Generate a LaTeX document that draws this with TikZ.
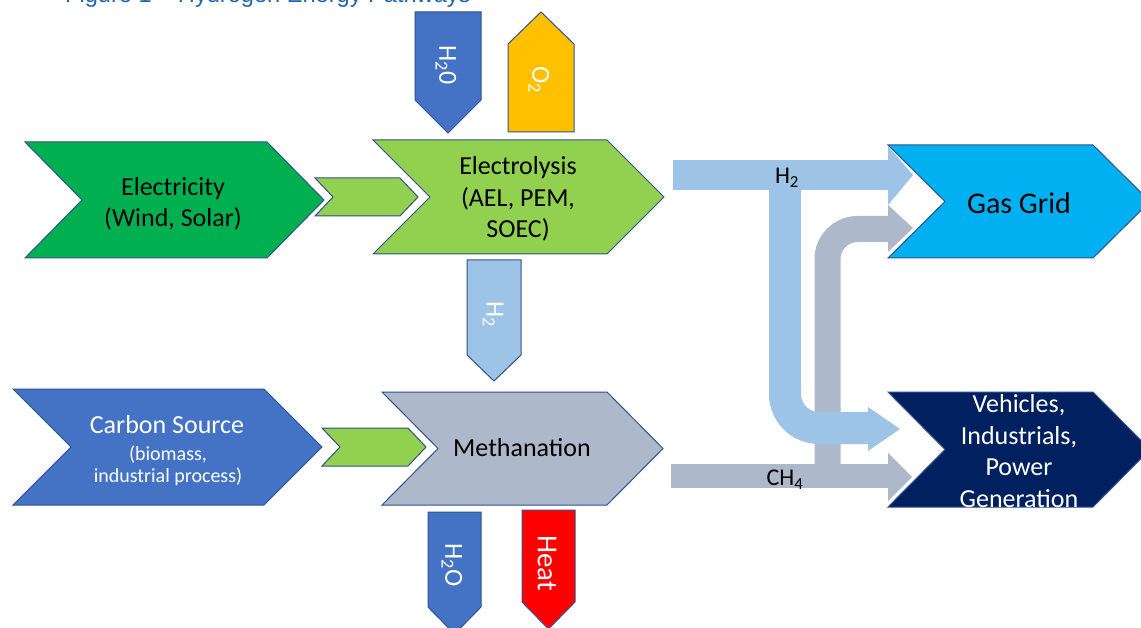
\documentclass[tikz,border=0pt]{standalone}
\usepackage{fontspec}
\setmainfont{Carlito}
\newfontfamily\titlefont{Liberation Sans}
\definecolor{edge}{HTML}{2F528F}
\definecolor{cgreen}{HTML}{00B050}
\definecolor{lgreen}{HTML}{92D050}
\definecolor{cblue}{HTML}{4472C4}
\definecolor{cyellow}{HTML}{FFC000}
\definecolor{lblue}{HTML}{9DC3E6}
\definecolor{cgrey}{HTML}{ADB9CA}
\definecolor{cyan2}{HTML}{00B0F0}
\definecolor{navy}{HTML}{002060}
\definecolor{cred}{HTML}{FF0000}
\definecolor{titleblue}{HTML}{1F68B0}
\newcommand\mychev[6]{\path[#1] (#2,#3) -- (#4,#3) -- ({#4+#6},{(#3+#5)/2}) -- (#4,#5) -- (#2,#5) -- ({#2+#6},{(#3+#5)/2}) -- cycle;}
\newcommand\myvarrow[6]{\path[#1] (#2,#4) -- (#3,#4) -- (#3,#5) -- ({(#2+#3)/2},#6) -- (#2,#5) -- cycle;}
\tikzset{
  shape box/.style={draw=edge, line width=1bp, fill=#1},
  lbl/.style={inner sep=0pt, align=center, font=\fontsize{26bp}{31.5bp}\selectfont},
  vlbl/.style={inner sep=0pt, rotate=-90, text=white, font=\fontsize{26bp}{30bp}\selectfont},
  flowlbl/.style={inner sep=0pt, font=\fontsize{24bp}{26bp}\selectfont},
}
\begin{document}
\begin{tikzpicture}[x=1bp, y=-1bp]
\clip (0,0) rectangle (1141,628);
\fill[white] (0,0) rectangle (1141,628);
% title (cut off at top)
\node[anchor=base west, inner sep=0pt, text=titleblue, font=\titlefont\fontsize{23.6bp}{28bp}\selectfont] (title) at (65,3) {Figure 1 – Hydrogen Energy Pathways};

% ---- flows ----
\coordinate (gvtop) at (827.5,229);
\coordinate (gvbot) at (827.5,476);
\draw[cgrey, line width=26bp, rounded corners=30bp] (gvbot) -- (gvtop) -- (888,229);
\fill[cgrey] (888,205) -- (913,228) -- (888,252) -- cycle;
\fill[cgrey] (671,464) rectangle (888,488);
\fill[cgrey] (888,453) -- (912,477) -- (888,501) -- cycle;
% light blue H2
\fill[lblue] (673,160) rectangle (888,190);
\fill[lblue] (888,146) -- (913,175) -- (888,205) -- cycle;
\draw[lblue, line width=32bp, rounded corners=34bp] (785,175) -- (785,428) -- (868,428);
\fill[lblue] (868,407) -- (900,429) -- (868,451) -- cycle;
\node[flowlbl] (h2flow) at (787,178) {H\textsubscript{2}};
\node[flowlbl] (ch4flow) at (785,480) {CH\textsubscript{4}};

% ---- vertical arrows ----
\myvarrow{shape box=cblue}{415}{481}{12}{100}{133}
\myvarrow{shape box=cyellow}{508}{574}{132}{44}{12}
\myvarrow{shape box=lblue}{467}{521}{260}{355}{381}
\myvarrow{shape box=cblue}{428}{481}{512}{607}{634}
\myvarrow{shape box=cred}{522}{575}{510}{602}{629}
\node[vlbl] (h2oin) at (446,65) {H\textsubscript{2}0};
\node[vlbl] (o2out) at (539,80) {O\textsubscript{2}};
\node[vlbl] (h2mid) at (493,314) {H\textsubscript{2}};
\node[vlbl] (h2oout) at (452,565) {H\textsubscript{2}O};
\node[vlbl, font=\fontsize{29bp}{30bp}\selectfont] (heat) at (547,563) {Heat};

% ---- chevrons ----
\mychev{shape box=cgreen}{25}{142}{267}{258}{57}
\mychev{shape box=lgreen}{315}{178}{400}{216}{18}
\mychev{shape box=lgreen}{373}{140}{607}{254}{57}
\mychev{shape box=cblue}{13}{389}{264}{505}{58}
\mychev{shape box=lgreen}{322}{428}{408}{466}{18}
\mychev{shape box=cgrey}{382}{392}{607}{505}{56}
\mychev{shape box=cyan2}{888}{145}{1093}{258}{57}
\mychev{shape box=navy}{888}{392}{1093}{507}{57}

\node[lbl] (elec) at (173,204) {Electricity\\(Wind, Solar)};
\node[lbl] (lysis) at (518,199) {Electrolysis\\(AEL, PEM,\\SOEC)};
\node[lbl, text=white] (carbon) at (167,425) {Carbon Source};
\node[lbl, text=white, font=\fontsize{20bp}{22bp}\selectfont] (carbonsub) at (168,466) {(biomass,\\industrial process)};
\node[lbl] (meth) at (522,448) {Methanation};
\node[lbl, font=\fontsize{30bp}{32bp}\selectfont] (grid) at (1019,203) {Gas Grid};
\node[lbl, text=white] (use) at (1019,451) {Vehicles,\\Industrials,\\Power\\Generation};
\end{tikzpicture}
\end{document}
